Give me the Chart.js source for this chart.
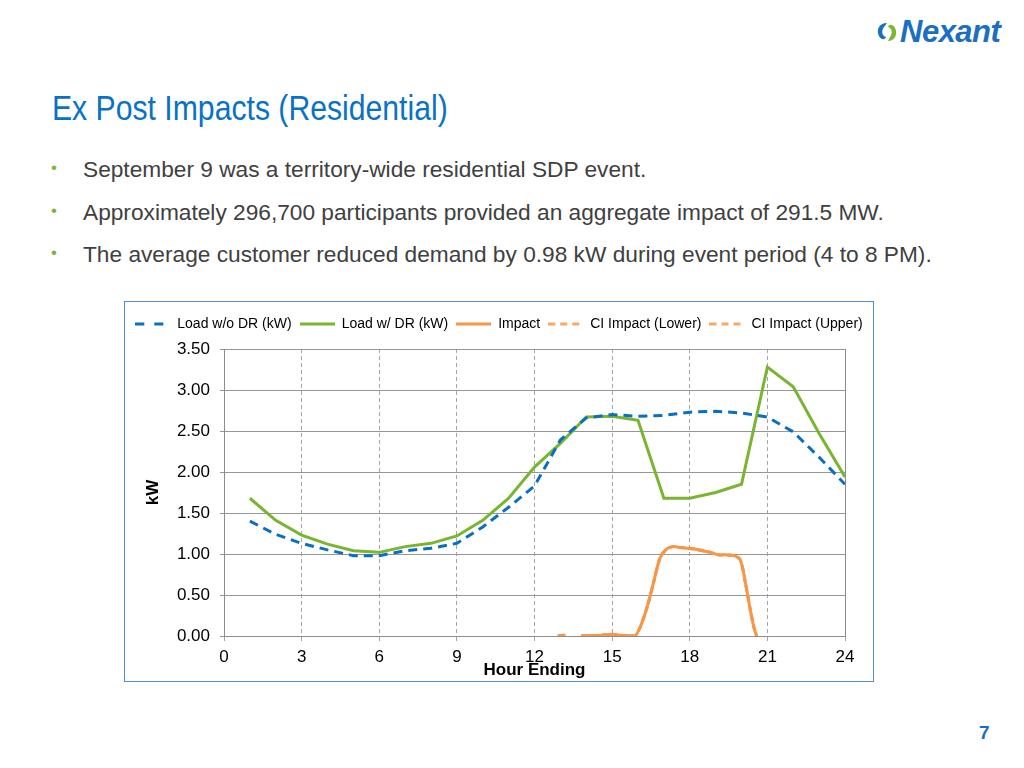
<!DOCTYPE html>
<html>
<head>
<meta charset="utf-8">
<script src="https://cdn.jsdelivr.net/npm/chart.js@4.4.1/dist/chart.umd.min.js"></script>
<style>
  body { margin: 0; background: #fff; width: 1024px; height: 768px; position: relative; overflow: hidden; font-family: "Liberation Sans", Arial, sans-serif; }
  .logo { position: absolute; left: 874px; top: 14px; height: 36px; display: flex; align-items: center; }
  .logo span { font-weight: bold; font-style: italic; font-size: 31px; color: #1b6ec2; letter-spacing: -0.5px; font-family: "Liberation Sans", Arial, sans-serif; }
  .title { position: absolute; left: 52px; top: 88px; font-family: "Liberation Sans", Arial, sans-serif; font-size: 35px; color: #0a72c6; white-space: nowrap; transform: scaleX(0.862); transform-origin: left top; }
  .bl { position: absolute; left: 83px; font-size: 22.7px; color: #404040; white-space: nowrap; }
  .dot { position: absolute; left: 51px; font-size: 17px; color: #78b832; }
  .frame { position: absolute; left: 124px; top: 301px; width: 750px; height: 381px; box-sizing: border-box; border: 1px solid #4f8fcc; }
  .pnum { position: absolute; left: 979px; top: 722px; font-weight: bold; font-size: 19px; color: #1b6ec2; }
</style>
</head>
<body>
<div class="logo">
  <svg width="26" height="24" viewBox="0 0 26 24">
    <path d="M13 3 C5 3 2 10 5 16 C7 20 11 20 12 17 C8 16 7 11 10 7 Z" fill="#1b6ec2"/>
    <path d="M14 21 C21 21 24 14 21 8 C19 4 15 4 14 7 C18 8 19 13 16 17 Z" fill="#78b832"/>
  </svg>
  <span>Nexant</span>
</div>
<div class="title">Ex Post Impacts (Residential)</div>
<div class="dot" style="top:158px">•</div>
<div class="bl" style="top:156px">September 9 was a territory-wide residential SDP event.</div>
<div class="dot" style="top:201px">•</div>
<div class="bl" style="top:199px">Approximately 296,700 participants provided an aggregate impact of 291.5 MW.</div>
<div class="dot" style="top:243px">•</div>
<div class="bl" style="top:241px">The average customer reduced demand by 0.98 kW during event period (4 to 8 PM).</div>
<div class="frame"><canvas id="loadChart" width="748" height="379"></canvas></div>
<div class="pnum">7</div>
<script>
// hour ending 1..24
const hours = [1, 2, 3, 4, 5, 6, 7, 8, 9, 10, 11, 12, 13, 14, 15, 16, 17, 18, 19, 20, 21, 22, 23, 24];
const loadNoDR = [1.40, 1.24, 1.13, 1.05, 0.98, 0.98, 1.04, 1.07, 1.13, 1.33, 1.57, 1.83, 2.39, 2.66, 2.70, 2.68, 2.69, 2.73, 2.74, 2.72, 2.67, 2.49, 2.18, 1.85];
const loadWithDR = [1.68, 1.41, 1.23, 1.12, 1.04, 1.02, 1.09, 1.13, 1.22, 1.41, 1.68, 2.06, 2.35, 2.67, 2.68, 2.63, 1.68, 1.68, 1.75, 1.85, 3.28, 3.04, 2.47, 1.94];

// impact is finer grained than hourly
const impactHours = [12.9, 13.2, 13.5, 13.8, 14.2, 14.6, 15.0, 15.3, 15.6, 15.88, 16.1, 16.35, 16.6, 16.85, 17.1, 17.35, 17.6, 17.9, 18.2, 18.5, 18.8, 19.1, 19.4, 19.7, 19.95, 20.15, 20.35, 20.5, 20.59];
const impactValues = [0.0, 0.01, null, 0.0, 0.005, 0.01, 0.02, 0.01, 0.005, 0.0, 0.12, 0.35, 0.65, 0.95, 1.06, 1.09, 1.08, 1.07, 1.06, 1.04, 1.02, 0.99, 0.99, 0.98, 0.93, 0.65, 0.30, 0.08, 0.0];
const ciLower = impactValues.slice();
const ciUpper = impactValues.slice();

const xTicks = [0, 3, 6, 9, 12, 15, 18, 21, 24];
const yTicks = [0, 0.5, 1, 1.5, 2, 2.5, 3, 3.5];

function toPoints(xs, ys) {
    return xs.map((x, i) => ({ x: x, y: ys[i] }));
}

// small line sample for the legend (pointStyle line ignores dashes)
function legendLine(color, dash) {
    const c = document.createElement('canvas');
    c.width = 35;
    c.height = 6;
    const g = c.getContext('2d');
    g.strokeStyle = color;
    g.lineWidth = 3;
    g.setLineDash(dash);
    g.beginPath();
    g.moveTo(0, 3);
    g.lineTo(35, 3);
    g.stroke();
    return c;
}

const ctx = document.getElementById("loadChart").getContext("2d");

window.myChart = new Chart(ctx, {
    type: 'line',
    data: {
        datasets: [{
            label: 'Load w/o DR (kW)',
            data: toPoints(hours, loadNoDR),
            borderColor: '#0a6fc2',
            borderWidth: 3,
            borderDash: [9, 6],
            pointRadius: 0,
            pointStyle: legendLine('#0a6fc2', [9, 10])
        }, {
            label: 'Load w/ DR (kW)',
            data: toPoints(hours, loadWithDR),
            borderColor: '#79b530',
            borderWidth: 3,
            pointRadius: 0,
            pointStyle: legendLine('#79b530', [])
        }, {
            label: 'Impact',
            data: toPoints(impactHours, impactValues),
            borderColor: '#f79646',
            borderWidth: 3,
            tension: 0.3,
            pointRadius: 0,
            pointStyle: legendLine('#f79646', [])
        }, {
            label: 'CI Impact (Lower)',
            data: toPoints(impactHours, ciLower),
            borderColor: '#f9a868',
            borderWidth: 3,
            borderDash: [6, 4],
            tension: 0.3,
            pointRadius: 0,
            pointStyle: legendLine('#f9a868', [7, 5])
        }, {
            label: 'CI Impact (Upper)',
            data: toPoints(impactHours, ciUpper),
            borderColor: '#f9a868',
            borderWidth: 3,
            borderDash: [6, 4],
            tension: 0.3,
            pointRadius: 0,
            pointStyle: legendLine('#f9a868', [7, 5])
        }]
    },
    options: {
        responsive: false,
        animation: false,
        layout: { padding: { top: 7, right: 0, bottom: 0, left: 0 } },
        plugins: {
            tooltip: { enabled: false },
            legend: {
                position: 'top',
                labels: {
                    usePointStyle: true,
                    pointStyleWidth: 35,
                    color: '#000',
                    padding: 8,
                    font: { family: 'Liberation Sans', size: 14 }
                }
            }
        },
        scales: {
            x: {
                type: 'linear',
                min: 0,
                max: 24,
                afterBuildTicks: (scale) => { scale.ticks = xTicks.map(v => ({ value: v })); },
                afterFit: (scale) => { scale.height = 45; },
                ticks: { color: '#000', padding: 6, maxRotation: 0, font: { family: 'Liberation Sans', size: 17 } },
                grid: {
                    color: (c) => (c.tick && (c.tick.value === 0 || c.tick.value === 24)) ? 'rgba(0,0,0,0)' : '#a6a6a6',
                    tickColor: '#a6a6a6',
                    tickLength: 5
                },
                border: { color: '#8c8c8c', dash: [4, 3] },
                title: {
                    display: true,
                    text: 'Hour Ending',
                    color: '#000',
                    padding: { top: 0, bottom: 0 },
                    font: { family: 'Liberation Sans', size: 17, weight: 'bold' }
                }
            },
            y: {
                min: 0,
                max: 3.5,
                afterBuildTicks: (scale) => { scale.ticks = yTicks.map(v => ({ value: v })); },
                afterFit: (scale) => { scale.width = 99; },
                ticks: {
                    color: '#000',
                    padding: 10,
                    font: { family: 'Liberation Sans', size: 17 },
                    callback: (v) => Number(v).toFixed(2)
                },
                grid: { color: '#969696', tickLength: 4 },
                border: { color: '#8c8c8c' },
                title: {
                    display: true,
                    text: 'kW',
                    color: '#000',
                    padding: { top: 18, bottom: 0 },
                    font: { family: 'Liberation Sans', size: 17, weight: 'bold' }
                }
            },
            y2: {
                position: 'right',
                min: 0,
                max: 3.5,
                afterFit: (scale) => { scale.width = 28; },
                ticks: { display: false },
                grid: { display: false },
                border: { display: true, color: '#8c8c8c' }
            }
        }
    },
    plugins: [{
        id: 'legendGap',
        beforeInit(chart) {
            const fit = chart.legend.fit;
            chart.legend.fit = function () {
                fit.bind(chart.legend)();
                this.height += 8;
            };
        }
    }]
});
</script>
</body>
</html>
